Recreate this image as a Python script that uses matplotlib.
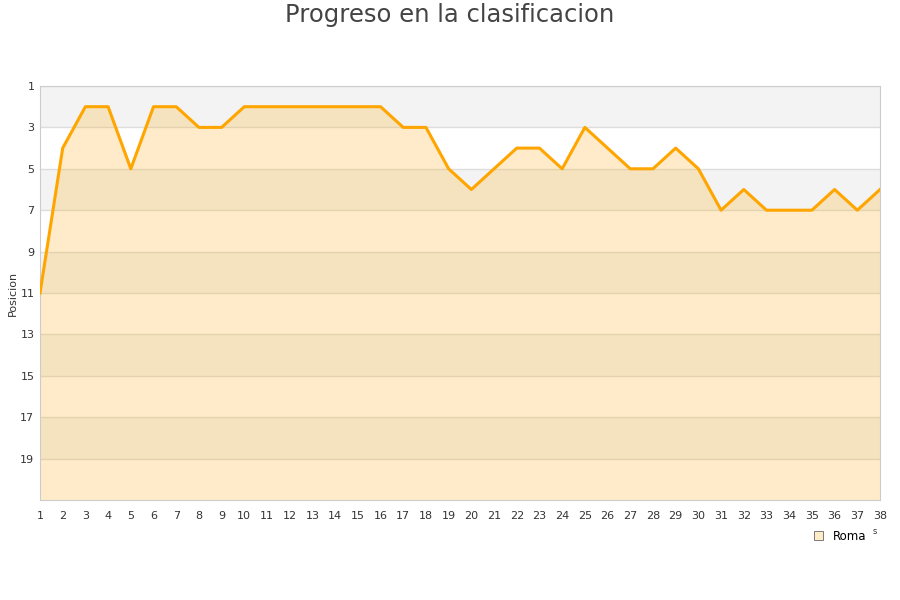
import numpy as np
import matplotlib.pyplot as plt

# jornadas y posicion de la Roma
jornadas = list(range(1, 39))
posicion = [11, 4, 2, 2, 5, 2, 2, 3, 3, 2,
            2, 2, 2, 2, 2, 2, 3, 3, 5, 6,
            5, 4, 4, 5, 3, 4, 5, 5, 4, 5,
            7, 6, 7, 7, 7, 6, 7, 6]
y_ticks = list(range(1, 21, 2))

fig = plt.figure(figsize=(9, 6), dpi=100)
ax = fig.add_axes([40 / 900, 1 - 500 / 600, 840 / 900, 414 / 600])

# alternating background bands
for i, lo in enumerate(range(1, 21, 2)):
    if i % 2 == 0:
        ax.axhspan(lo, lo + 2, color='#f3f3f3', zorder=0, lw=0)
for t in y_ticks:
    ax.axhline(t, color='#dddddd', lw=1, zorder=1)

ax.fill_between(jornadas, posicion, 21, color='orange', alpha=0.21, lw=0, zorder=2)
ax.plot(jornadas, posicion, color='orange', lw=2.2, zorder=3, label='Roma')

ax.set_xlim(1, 38)
ax.set_ylim(21, 1)
ax.set_xticks(jornadas)
ax.set_yticks(y_ticks)
ax.tick_params(length=0, labelsize=8, colors='#333333')
ax.tick_params(axis='x', pad=8)
ax.tick_params(axis='y', pad=4)
for s in ax.spines.values():
    s.set_color('#cccccc')
ax.set_ylabel('Posicion', fontsize=8, color='#333333', labelpad=2)

fig.suptitle('Progreso en la clasificacion', fontsize=17.5, color='#444444', y=0.995)

# legend
from matplotlib.patches import Patch
leg = fig.legend(handles=[Patch(facecolor='#feecc9', edgecolor='#666666', lw=0.6, label='Roma')],
                 loc='center', bbox_to_anchor=(840 / 900, 1 - 536 / 600), frameon=False,
                 fontsize=8.5, handlelength=0.8, handleheight=0.8, handletextpad=0.8)
fig.text(875 / 900, 1 - 531 / 600, 's', fontsize=6, color='#333333', ha='center', va='center')

fig.savefig('out.png', dpi=100)
